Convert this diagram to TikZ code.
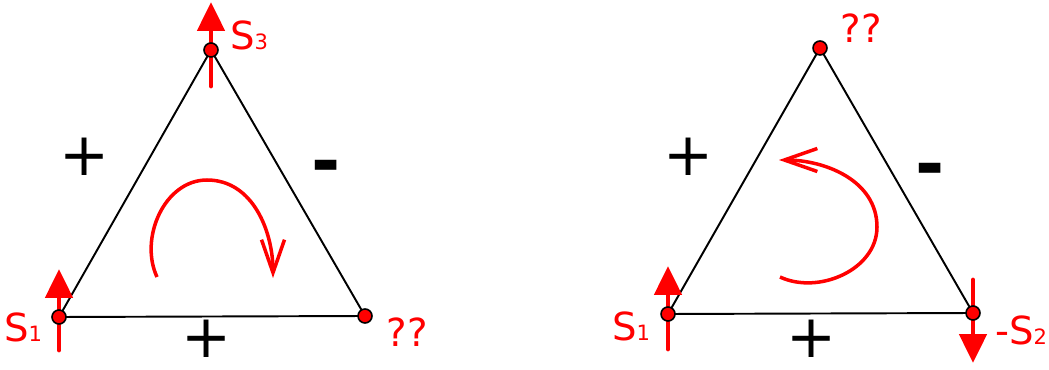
\documentclass[tikz,border=0pt]{standalone}
\usepackage{fontspec}
\setmainfont{DejaVu Sans}
\usetikzlibrary{arrows.meta}
\tikzset{
  spin/.style={red, line width=2.8pt, line cap=round, -{Triangle[length=0.58cm, width=0.54cm]}},
  site/.style={circle, fill=red, draw=black, line width=0.9pt, inner sep=0pt, minimum size=0.28cm},
  hop/.style={black, line width=1.1pt},
  turn/.style={red, line width=2pt, -{Straight Barb[length=0.66cm, width=0.46cm, line width=2pt]}},
  lbl/.style={red, inner sep=0pt, font=\fontsize{22}{24}\selectfont},
  sgn/.style={inner sep=0pt, font=\fontsize{34}{36}\selectfont},
  neg/.style={inner sep=0pt, font=\fontsize{40}{42}\selectfont\bfseries},
}
\newcommand{\spinidx}[1]{{\fontsize{12}{14}\selectfont #1}}

\begin{document}
\begin{tikzpicture}[x=0.02cm, y=0.02cm]
  \useasboundingbox (0,0) rectangle (1049,369);
  % 左边的三角形
  \coordinate (A) at (59,52);
  \coordinate (B) at (365,53);
  \coordinate (C) at (211,319);
  % 右边的三角形
  \coordinate (D) at (668,55);
  \coordinate (E) at (973,56);
  \coordinate (F) at (820,321);

  \draw[hop] (A) -- (B) -- (C) -- cycle;
  \draw[hop] (D) -- (E) -- (F) -- cycle;

  % 自旋箭头
  \coordinate (A0) at (59,19);   \coordinate (A1) at (59,100);
  \coordinate (C0) at (211,283); \coordinate (C1) at (211,367);
  \coordinate (D0) at (668,20);  \coordinate (D1) at (668,103);
  \coordinate (E0) at (973,89);  \coordinate (E1) at (973,6);
  \draw[spin] (A0) -- (A1);
  \draw[spin] (C0) -- (C1);
  \draw[spin] (D0) -- (D1);
  \draw[spin] (E0) -- (E1);

  \node[site] (a) at (A) {};
  \node[site] (b) at (B) {};
  \node[site] (c) at (C) {};
  \node[site] (d) at (D) {};
  \node[site] (e) at (E) {};
  \node[site] (f) at (F) {};

  % 绕向
  \coordinate (L0) at (157,92); \coordinate (L2) at (207,189); \coordinate (L1) at (273,91);
  \draw[turn] (L0) to[out=115, in=180] (L2) to[out=0, in=90] (L1);
  \coordinate (R0) at (780,92); \coordinate (R2) at (877,142); \coordinate (R1) at (779,209);
  \draw[turn] (R0) to[out=-25, in=-90] (R2) to[out=90, in=0] (R1);

  \node[lbl] (s1)  at (23,42)   {S\spinidx{1}};
  \node[lbl] (s3)  at (249,334) {S\spinidx{3}};
  \node[lbl] (q1)  at (407,37)  {??};
  \node[lbl] (q2)  at (861,341) {??};
  \node[lbl] (t1)  at (631,43)  {S\spinidx{1}};
  \node[lbl] (t2)  at (1021,39) {-S\spinidx{2}};

  \node[sgn] (p1) at (85,212)  {+};
  \node[sgn] (p2) at (207,30)  {+};
  \node[neg] (m1) at (326,196) {-};
  \node[sgn] (p3) at (689,212) {+};
  \node[sgn] (p4) at (812,30)  {+};
  \node[neg] (m2) at (930,193) {-};
\end{tikzpicture}
\end{document}
